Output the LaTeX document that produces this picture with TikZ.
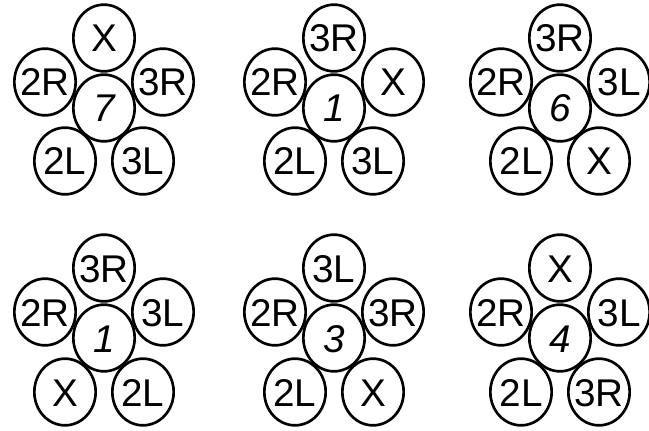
\documentclass[tikz,border=0pt]{standalone}
\usepackage{fontspec}
\setmainfont{Liberation Sans}
\usepackage{tikz}
\usetikzlibrary{shapes.geometric}

\begin{document}
\begin{tikzpicture}[
    x=0.75pt, y=-0.75pt,
    font=\fontsize{29}{31}\selectfont,
    petal/.style={draw=black, ellipse, line width=2pt, inner xsep=-3pt, inner ysep=0pt, text height=21pt, text depth=0pt, minimum width=46pt, minimum height=50pt},
    hub/.style={petal, font=\fontsize{29}{31}\selectfont\itshape}
]
\useasboundingbox (0,0) rectangle (649,431);

% top row
\node[hub] (c1) at (104,108) {7};
\node[petal] (t1) at (104,38) {X};
\node[petal] (ul1) at (45,82) {2R};
\node[petal] (ur1) at (163,82) {3R};
\node[petal] (ll1) at (65,161) {2L};
\node[petal] (lr1) at (143,161) {3L};

\node[hub] (c2) at (334,108) {1};
\node[petal] (t2) at (334,38) {3R};
\node[petal] (ul2) at (275,82) {2R};
\node[petal] (ur2) at (393,82) {X};
\node[petal] (ll2) at (295,161) {2L};
\node[petal] (lr2) at (373,161) {3L};

\node[hub] (c3) at (560,108) {6};
\node[petal] (t3) at (560,38) {3R};
\node[petal] (ul3) at (501,82) {2R};
\node[petal] (ur3) at (619,82) {3L};
\node[petal] (ll3) at (521,161) {2L};
\node[petal] (lr3) at (599,161) {X};

% bottom row
\node[hub] (c4) at (104,338) {1};
\node[petal] (t4) at (104,268) {3R};
\node[petal] (ul4) at (45,312) {2R};
\node[petal] (ur4) at (163,312) {3L};
\node[petal] (ll4) at (65,392) {X};
\node[petal] (lr4) at (143,392) {2L};

\node[hub] (c5) at (334,338) {3};
\node[petal] (t5) at (334,268) {3L};
\node[petal] (ul5) at (275,312) {2R};
\node[petal] (ur5) at (393,312) {3R};
\node[petal] (ll5) at (295,392) {2L};
\node[petal] (lr5) at (373,392) {X};

\node[hub] (c6) at (560,338) {4};
\node[petal] (t6) at (560,268) {X};
\node[petal] (ul6) at (501,312) {2R};
\node[petal] (ur6) at (619,312) {3L};
\node[petal] (ll6) at (521,392) {2L};
\node[petal] (lr6) at (599,392) {3R};
\end{tikzpicture}
\end{document}
